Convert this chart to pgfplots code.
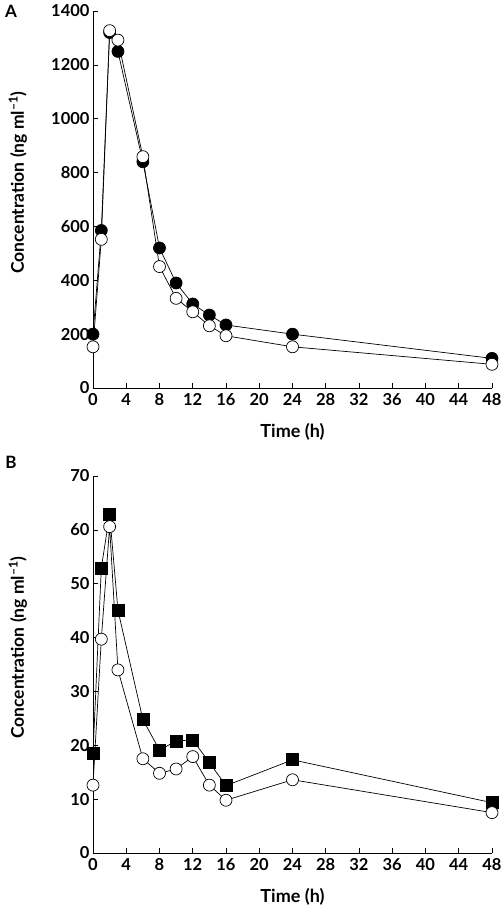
\documentclass[border=0pt]{standalone}
\usepackage{pgfplots}
\pgfplotsset{compat=1.18}
\usepackage{fontspec}
\setmainfont{Lato}

\begin{document}
\begin{tikzpicture}[font=\fontsize{17}{20}\selectfont\bfseries]
\pgfplotsset{
 myax/.style={
  width=399pt, height=377pt, scale only axis,
  axis lines*=left,
  xmin=0, xmax=48, ymin=0,
  xtick={0,4,...,48},
  tick align=inside,
  major tick length=5pt,
  /pgf/number format/assume math mode=true,
  /pgf/number format/1000 sep={},
  ticklabel style={font=\fontsize{16.5}{19}\selectfont\bfseries},
  xticklabel style={yshift=-2pt},
  xlabel={Time (h)},
  ylabel={Concentration (ng ml\textsuperscript{--1})},
  every axis x label/.style={at={(axis description cs:0.5,-0.115)}, anchor=center, font=\fontsize{18}{21}\selectfont\bfseries},
  every axis y label/.style={at={(axis description cs:-0.188,0.545)}, rotate=90, anchor=center, font=\fontsize{17.5}{21}\selectfont\bfseries},
  every axis plot/.append style={line width=0.7pt, black},
  clip=false,
  axis line style={line width=0.8pt},
  tick style={line width=0.7pt, black},
 }
}
\begin{axis}[myax, at={(0,0)}, anchor=south west, ymax=1400, ytick={0,200,...,1400}]
\addplot[mark=*, mark size=6pt, mark options={fill=black}] coordinates {
(0,200) (1,585) (2,1320) (3,1250) (6,840) (8,520) (10,390) (12,312) (14,271) (16,234) (24,200) (48,110)};
\addplot[mark=*, mark size=6pt, mark options={fill=white}] coordinates {
(0,153) (1,552) (2,1327) (3,1292) (6,859) (8,451) (10,333) (12,283) (14,231) (16,194) (24,153) (48,88)};
\end{axis}
\begin{axis}[myax, at={(0,-465pt)}, anchor=south west, ymax=70, ytick={0,10,...,70}]
\addplot[mark=square*, mark size=6pt, mark options={fill=black}] coordinates {
(0,18.5) (1,52.9) (2,62.9) (3,45.1) (6,24.8) (8,19.1) (10,20.8) (12,21.0) (14,16.8) (16,12.5) (24,17.3) (48,9.35)};
\addplot[mark=*, mark size=6pt, mark options={fill=white}] coordinates {
(0,12.6) (1,39.7) (2,60.6) (3,34.0) (6,17.5) (8,14.8) (10,15.6) (12,17.9) (14,12.6) (16,9.8) (24,13.6) (48,7.5)};
\end{axis}
\node at (-82pt,377pt) {A};
\node at (-82pt,-74pt) {B};
\pgfresetboundingbox
\path[use as bounding box] (-93pt,-523pt) rectangle (409pt,388pt);
\end{tikzpicture}
\end{document}
